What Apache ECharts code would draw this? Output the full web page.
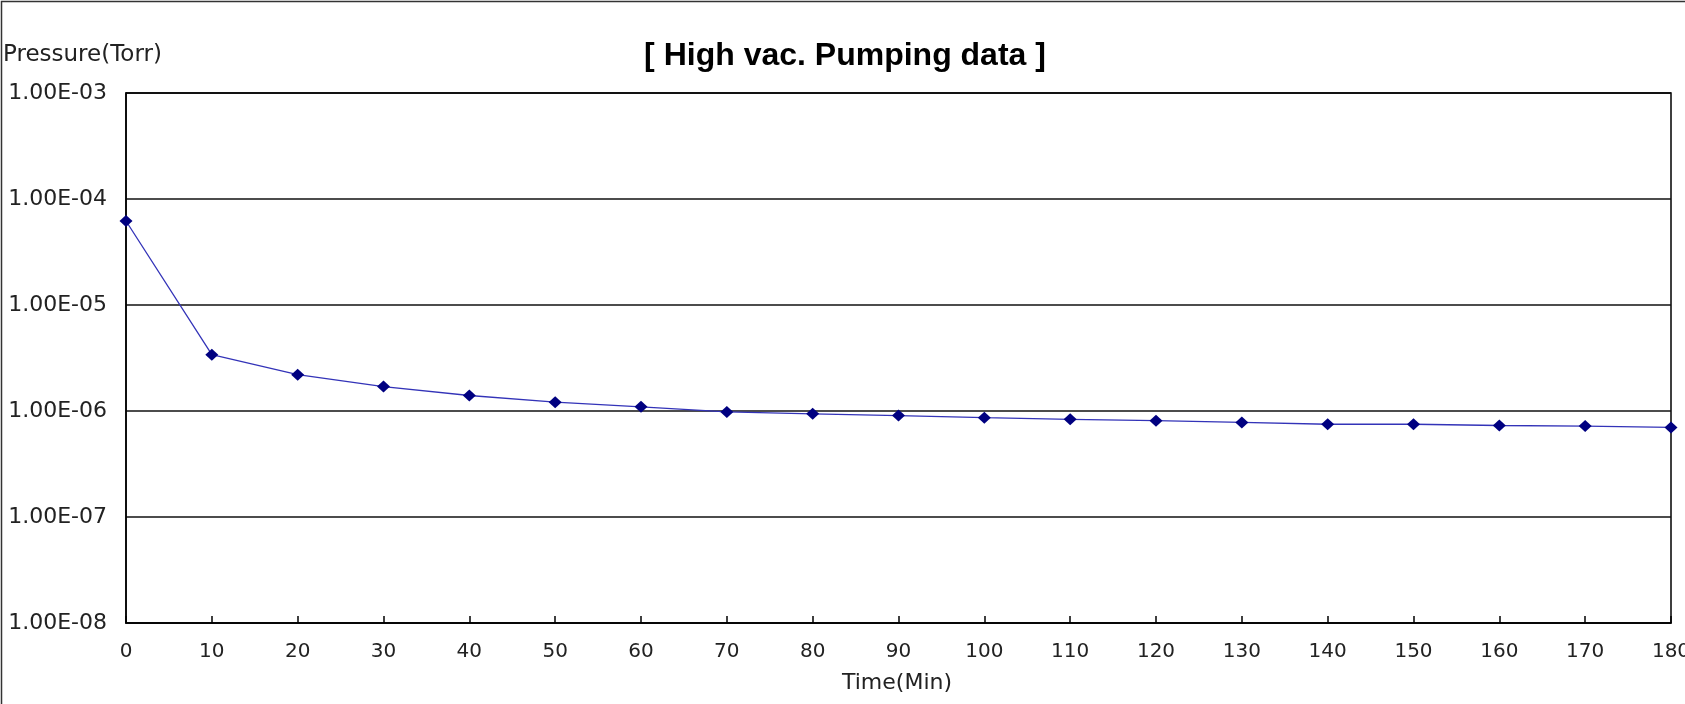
<!DOCTYPE html>
<html>
<head>
<meta charset="utf-8">
<script src="https://cdn.jsdelivr.net/npm/echarts@6/dist/echarts.min.js"></script>
<style>
html,body{margin:0;padding:0;background:#fff;}
#chart{width:1685px;height:704px;}
</style>
</head>
<body>
<div id="chart"></div>
<script>
// Data
const timeMin = [0, 10, 20, 30, 40, 50, 60, 70, 80, 90, 100, 110, 120, 130, 140, 150, 160, 170, 180];
const pressureTorr = [6.2e-5, 3.4e-6, 2.2e-6, 1.7e-6, 1.4e-6, 1.21e-6, 1.095e-6, 0.98e-6, 0.94e-6, 0.905e-6,
  0.865e-6, 0.835e-6, 0.81e-6, 0.78e-6, 0.75e-6, 0.75e-6, 0.73e-6, 0.72e-6, 0.70e-6];
const yTickLabels = ['1.00E-08', '1.00E-07', '1.00E-06', '1.00E-05', '1.00E-04', '1.00E-03'];
const titleText = '[ High vac. Pumping data ]';
const yAxisName = 'Pressure(Torr)';
const xAxisName = 'Time(Min)';

const chart = echarts.init(document.getElementById('chart'), null, {renderer: 'canvas'});
const labelFont = '"DejaVu Sans", sans-serif';

chart.setOption({
  backgroundColor: '#fff',
  animation: false,
  grid: {
    left: 126, top: 93, width: 1545, height: 530,
    outerBoundsMode: 'none', containLabel: false,
    show: true, borderColor: '#000', borderWidth: 1.5, backgroundColor: 'transparent'
  },
  graphic: [
    {type: 'rect', shape: {x: 1.5, y: 1.5, width: 1700, height: 720}, style: {fill: 'none', stroke: '#333', lineWidth: 1.5}, silent: true},
    {type: 'text', x: 845, y: 56, style: {text: titleText, font: 'bold 32px "Liberation Sans", Arial, sans-serif', fill: '#000', textAlign: 'center', textVerticalAlign: 'middle'}},
    {type: 'text', x: 3, y: 55, style: {text: yAxisName, font: '23px ' + labelFont, fill: '#222', textAlign: 'left', textVerticalAlign: 'middle'}},
    {type: 'text', x: 897, y: 683, style: {text: xAxisName, font: '22px ' + labelFont, fill: '#222', textAlign: 'center', textVerticalAlign: 'middle'}}
  ],
  xAxis: {
    type: 'value', min: 0, max: 180, interval: 10,
    axisLine: {show: true, lineStyle: {color: '#000', width: 1.5}},
    axisTick: {show: true, inside: true, length: 7, lineStyle: {color: '#000', width: 1.5}},
    axisLabel: {show: true, margin: 19, fontFamily: labelFont, fontSize: 20, color: '#222',
      formatter: v => String(v)},
    splitLine: {show: false}
  },
  yAxis: {
    type: 'log', logBase: 10, min: 1e-8, max: 1e-3, interval: 1,
    axisLine: {show: true, lineStyle: {color: '#000', width: 1.5}},
    axisTick: {show: false},
    axisLabel: {show: true, margin: 19, fontFamily: labelFont, fontSize: 22, color: '#222',
      formatter: v => {
        const e = Math.round(Math.log10(v));
        return yTickLabels[e + 8] || '';
      }},
    splitLine: {show: true, lineStyle: {color: '#111', width: 1.5}}
  },
  series: [{
    type: 'line',
    data: timeMin.map((t, i) => [t, pressureTorr[i]]),
    symbol: 'diamond', symbolSize: [13, 12],
    itemStyle: {color: '#000080'},
    lineStyle: {color: '#3333b8', width: 1.3},
    clip: false
  }]
});
</script>
</body>
</html>
